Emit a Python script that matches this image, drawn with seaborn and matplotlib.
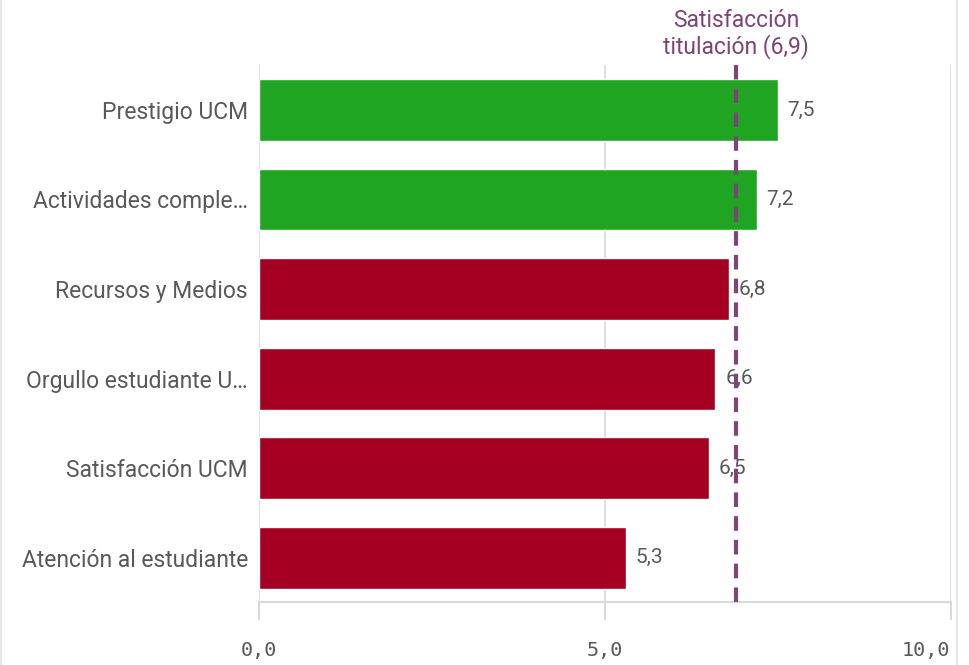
import pandas as pd
import numpy as np
import matplotlib
matplotlib.use('Agg')
import matplotlib.pyplot as plt
import seaborn as sns
from matplotlib.lines import Line2D

categorias = ['Prestigio UCM', 'Actividades comple…', 'Recursos y Medios',
              'Orgullo estudiante U…', 'Satisfacción UCM', 'Atención al estudiante']
valores = [7.5, 7.2, 6.8, 6.6, 6.5, 5.3]
referencia = 6.9
ref_texto = 'Satisfacción\ntitulación (6,9)'
ticks_x = [0, 5, 10]
tick_labels = ['0,0', '5,0', '10,0']

df = pd.DataFrame({'cat': categorias, 'val': valores})
df['grupo'] = np.where(df['val'] > referencia, 'sobre', 'bajo')

verde = '#1fa522'
rojo = '#a50021'
morado = '#7d4479'
gris_texto = '#595959'
gris_linea = '#d9d9d9'

sns.set_style('white')
plt.rcParams['font.family'] = ['Roboto', 'DejaVu Sans']

fig = plt.figure(figsize=(9.7, 6.65), dpi=100)
ax = fig.add_axes([0.267, 0.094, 0.713, 0.808])

sns.barplot(data=df, y='cat', x='val', hue='grupo', order=categorias,
            palette={'sobre': verde, 'bajo': rojo}, dodge=False,
            width=0.69, legend=False, ax=ax, saturation=1)

ax.set_xlim(0, 10)
ax.set_ylim(len(categorias) - 0.5, -0.5)
ax.set_xticks(ticks_x)
ax.set_xticklabels(tick_labels, family='DejaVu Sans Mono', fontsize=14.5, color=gris_texto)
ax.get_xticklabels()[-1].set_ha('right')
ax.tick_params(axis='x', bottom=True, length=13, width=1.5, color=gris_linea, pad=15)
ax.tick_params(axis='y', length=0, pad=8, labelsize=16.5, labelcolor=gris_texto)
ax.set_xlabel('')
ax.set_ylabel('')

for x in ticks_x:
    ax.axvline(x, color=gris_linea, lw=1.2, zorder=0)
for s in ['top', 'right', 'left']:
    ax.spines[s].set_visible(False)
ax.spines['bottom'].set_color(gris_linea)
ax.spines['bottom'].set_linewidth(1.5)

for i, v in enumerate(valores):
    ax.text(v + 0.14, i, f'{v:.1f}'.replace('.', ','), va='center', ha='left',
            fontsize=15, color=gris_texto)

ax.axvline(referencia, color=morado, lw=3, ls=(0, (3.5, 2.2)), zorder=3)
ax.text(referencia, 1.012, ref_texto, transform=ax.get_xaxis_transform(),
        ha='center', va='bottom', fontsize=16.5, color=morado, linespacing=1.1)

fig.add_artist(Line2D([0.987, 0.987], [0, 1], color='#e6e6e6', lw=1.5))
fig.add_artist(Line2D([0.001, 0.001], [0, 1], color='#e6e6e6', lw=1.5))

fig.savefig('out.png', dpi=100)
